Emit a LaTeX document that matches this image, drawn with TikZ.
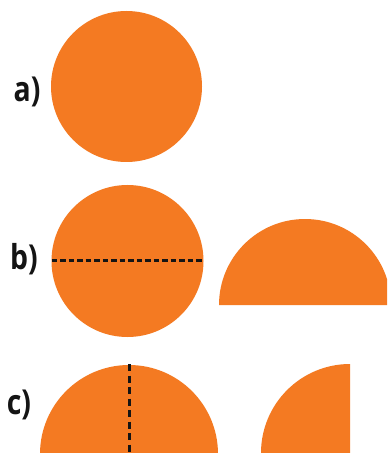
\documentclass[tikz,border=0pt]{standalone}
\usepackage{fontspec}
\setmainfont{Open Sans}
\definecolor{disc}{RGB}{244,122,34}
\definecolor{ink}{RGB}{20,20,20}
\begin{document}
\begin{tikzpicture}[x=1bp,y=-1bp,
  lbl/.style={font=\fontsize{30}{30}\selectfont\bfseries, text=ink, inner sep=0pt, yscale=1.15, xscale=0.95},
  cut/.style={draw=ink, line width=2.8bp, dash pattern=on 5.5bp off 3bp},
  vcut/.style={draw=ink, line width=3bp, dash pattern=on 7bp off 4.5bp},
  piece/.style={fill=disc}]
\useasboundingbox (0,0) rectangle (387,453);
\fill[white] (0,0) rectangle (387,453);
\clip (0,0) rectangle (387,453);
% a)
\fill[piece] (126.5,86.5) circle[radius=75.5];
\node[lbl] (la) at (27,92) {a)};
% b)
\fill[piece] (127.5,261) circle[radius=76];
\coordinate (bl) at (51.5,260.5);
\coordinate (br) at (203.5,260.5);
\draw[cut] (bl) -- (br);
\fill[piece] (219,305) arc[start angle=180,end angle=360,radius=86] -- cycle;
\node[lbl] (lb) at (24,259) {b)};
% c)
\fill[piece] (129,454) circle[radius=89];
\coordinate (ct) at (129.5,364);
\coordinate (cb) at (129.5,453);
\draw[vcut] (ct) -- (cb);
\fill[piece] (261,453) arc[start angle=180,end angle=270,radius=89] -- (350,453) -- cycle;
\node[lbl] (lc) at (19,405) {c)};
\end{tikzpicture}
\end{document}
